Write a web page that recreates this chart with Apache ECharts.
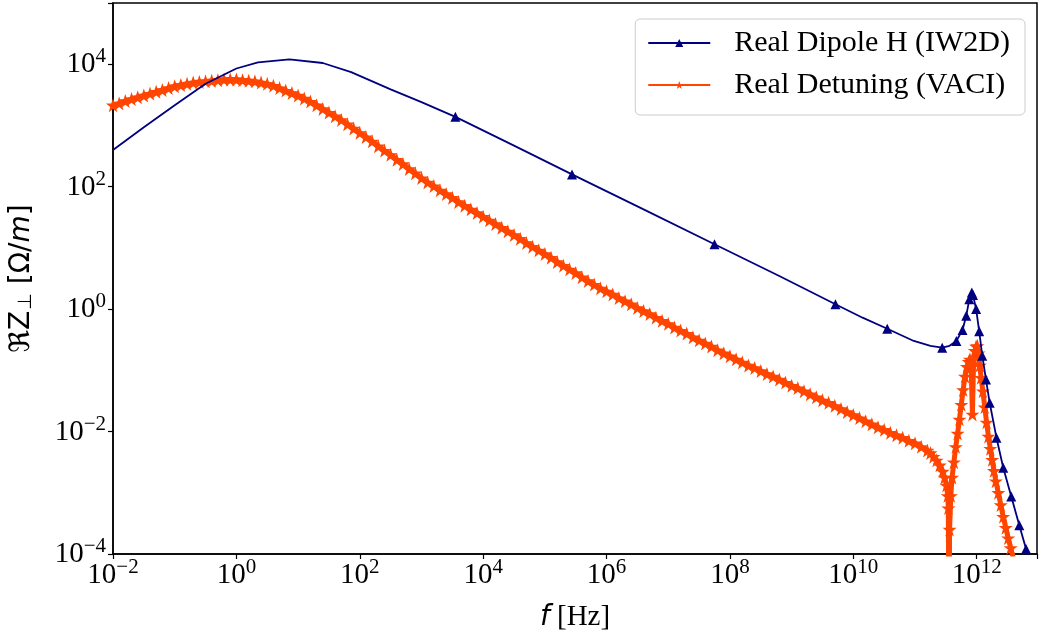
<!DOCTYPE html>
<html>
<head>
<meta charset="utf-8">
<title>Transverse impedance</title>
<script src="https://cdn.jsdelivr.net/npm/echarts@6/dist/echarts.min.js"></script>
<style>
  html, body { margin: 0; padding: 0; background: #ffffff; }
  #chart { width: 1041px; height: 637px; }
</style>
</head>
<body>
<div id="chart"></div>
<script>
// Frequencies and impedances are stored as base-10 exponents: f = 10^F [Hz], Re Z = 10^Z [Ohm/m]

// Real Dipole H (IW2D)
const dipoleExpF = [-2.0, -1.5, -1.0, -0.5, 0.0, 0.35, 0.86, 1.40, 1.86, 2.50, 3.00, 3.55, 4.50, 5.44, 6.60, 7.75,
  8.80, 9.71, 10.15, 10.55, 10.98, 11.25, 11.44, 11.56, 11.67, 11.77, 11.83, 11.88, 11.92, 11.94, 11.99, 12.04,
  12.09, 12.15, 12.21, 12.32, 12.43, 12.56, 12.69, 12.80, 12.88];
const dipoleExpZ = [2.60, 2.97, 3.33, 3.68, 3.93, 4.03, 4.08, 4.02, 3.87, 3.59, 3.38, 3.14, 2.67, 2.20, 1.63, 1.06,
  0.54, 0.08, -0.14, -0.32, -0.52, -0.60, -0.63, -0.60, -0.52, -0.34, -0.11, 0.16, 0.27, 0.23, 0.00, -0.36,
  -0.76, -1.15, -1.53, -2.10, -2.59, -3.06, -3.53, -3.92, -4.20];
// 1 where the curve carries a triangle marker
const dipoleMarked = [0, 0, 0, 0, 0, 0, 0, 0, 0, 0, 0, 1, 0, 1, 0, 1,
  0, 1, 0, 1, 0, 0, 1, 0, 1, 1, 1, 1, 1, 1, 1, 1,
  1, 1, 1, 1, 1, 1, 1, 1, 0];

// Real Detuning (VACI)
const detuningExpF = [-2.0, -1.9, -1.8, -1.7, -1.6, -1.5, -1.4, -1.3, -1.2, -1.1, -1.0, -0.9, -0.8, -0.7, -0.6, -0.5,
  -0.4, -0.3, -0.2, -0.1, 0.0, 0.1, 0.2, 0.3, 0.4, 0.5, 0.6, 0.7, 0.8, 0.9, 1.0, 1.1, 1.2, 1.3, 1.4, 1.5, 1.6, 1.7,
  1.8, 1.9, 2.0, 2.1, 2.2, 2.3, 2.4, 2.5, 2.6, 2.7, 2.8, 2.9, 3.0, 3.1, 3.2, 3.3, 3.4, 3.5, 3.6, 3.7, 3.8, 3.9,
  4.0, 4.1, 4.2, 4.3, 4.4, 4.5, 4.6, 4.7, 4.8, 4.9, 5.0, 5.1, 5.2, 5.3, 5.4, 5.5, 5.6, 5.7, 5.8, 5.9,
  6.0, 6.1, 6.2, 6.3, 6.4, 6.5, 6.6, 6.7, 6.8, 6.9, 7.0, 7.1, 7.2, 7.3, 7.4, 7.5, 7.6, 7.7, 7.8, 7.9,
  8.0, 8.1, 8.2, 8.3, 8.4, 8.5, 8.6, 8.7, 8.8, 8.9, 9.0, 9.1, 9.2, 9.3, 9.4, 9.5, 9.6, 9.7, 9.8, 9.9,
  10.0, 10.1, 10.2, 10.3, 10.4, 10.5, 10.6, 10.7, 10.8, 10.9, 11.0, 11.1, 11.2, 11.25, 11.3, 11.35, 11.4,
  11.45, 11.48, 11.51, 11.53, 11.54, 11.55, 11.56, 11.58, 11.60, 11.63, 11.66, 11.69, 11.72, 11.75, 11.78,
  11.81, 11.84, 11.87, 11.89, 11.91, 11.93, 11.95, 11.97, 11.99, 12.01, 12.03, 12.05, 12.07, 12.10, 12.13,
  12.16, 12.19, 12.22, 12.25, 12.28, 12.31, 12.35, 12.39, 12.43, 12.47, 12.51, 12.55, 12.59];
const detuningExpZ = [3.33, 3.36, 3.40, 3.43, 3.46, 3.49, 3.52, 3.55, 3.58, 3.61, 3.64, 3.66, 3.68, 3.70, 3.71, 3.72,
  3.73, 3.74, 3.75, 3.75, 3.75, 3.74, 3.73, 3.72, 3.70, 3.68, 3.65, 3.61, 3.57, 3.53, 3.49, 3.44, 3.39, 3.33, 3.27, 3.21, 3.15, 3.09,
  3.02, 2.95, 2.88, 2.81, 2.74, 2.66, 2.59, 2.52, 2.44, 2.37, 2.29, 2.22, 2.14, 2.07, 2.01, 1.94, 1.88, 1.82, 1.75, 1.69, 1.63, 1.57,
  1.51, 1.45, 1.39, 1.33, 1.27, 1.21, 1.15, 1.08, 1.02, 0.96, 0.90, 0.84, 0.77, 0.71, 0.65, 0.59, 0.52, 0.46, 0.40, 0.34,
  0.29, 0.24, 0.18, 0.13, 0.08, 0.02, -0.03, -0.08, -0.14, -0.19, -0.24, -0.30, -0.35, -0.40, -0.46, -0.51, -0.56, -0.61, -0.67, -0.72,
  -0.77, -0.82, -0.87, -0.92, -0.96, -1.01, -1.06, -1.10, -1.15, -1.20, -1.25, -1.29, -1.34, -1.39, -1.44, -1.49, -1.53, -1.58, -1.63, -1.68,
  -1.73, -1.78, -1.83, -1.88, -1.93, -1.97, -2.02, -2.06, -2.10, -2.15, -2.19, -2.25, -2.31, -2.35, -2.41, -2.47, -2.55,
  -2.65, -2.75, -2.88, -3.05, -3.25, -6.00, -3.60, -3.05, -2.75, -2.50, -2.25, -2.03, -1.80, -1.56, -1.32,
  -1.10, -0.94, -0.86, -0.82, -0.95, -1.72, -0.82, -0.68, -0.61, -0.60, -0.72, -0.92, -1.12, -1.34, -1.60,
  -1.85, -2.08, -2.28, -2.46, -2.64, -2.81, -3.00, -3.20, -3.39, -3.57, -3.74, -3.90, -4.05];

const SERIES_NAMES = ['Real Dipole H (IW2D)', 'Real Detuning (VACI)'];
const NAVY = '#000080';
const ORANGE_RED = '#ff4500';
const STAR = 'path://M50,0 L61.8,34.5 L97.6,34.5 L68.6,55.9 L79.4,90.5 L50,69.1 L20.6,90.5 L31.4,55.9 L2.4,34.5 L38.2,34.5 Z';

const dipoleData = dipoleExpF.map((e, i) => ({
  value: [Math.pow(10, e), Math.pow(10, dipoleExpZ[i])],
  symbol: dipoleMarked[i] ? 'triangle' : 'none'
}));
const detuningData = detuningExpF.map((e, i) => [Math.pow(10, e), Math.pow(10, detuningExpZ[i])]);

// Labels only at every second decade, written as 10 with a raised exponent
function powerLabel(v) {
  const e = Math.log10(v);
  const r = Math.round(e);
  if (Math.abs(e - r) > 1e-6 || r % 2 !== 0) return '';
  return '{b|10}{s|' + String(r).replace('-', '\u2212') + '}';
}
const tickRich = {
  b: { fontFamily: 'Liberation Serif', fontSize: 29, color: '#000', verticalAlign: 'bottom', lineHeight: 30 },
  s: { fontFamily: 'Liberation Serif', fontSize: 21, color: '#000', verticalAlign: 'bottom', lineHeight: 21, padding: [0, 0, 12, 0] }
};

const axisCommon = {
  type: 'log',
  logBase: 10,
  interval: 2,
  axisLine: { show: true, lineStyle: { color: '#000', width: 1.5 } },
  axisTick: { show: true, inside: false, length: 5, lineStyle: { color: '#000', width: 1.2 } },
  minorTick: { show: false },
  splitLine: { show: false },
  minorSplitLine: { show: false },
  axisLabel: { formatter: powerLabel, rich: tickRich }
};

const chart = echarts.init(document.getElementById('chart'), null, { renderer: 'canvas' });
chart.setOption({
  animation: false,
  backgroundColor: '#ffffff',
  grid: {
    left: 109, right: 4, top: 3, bottom: 79,
    show: true, borderColor: '#000', borderWidth: 1.5, backgroundColor: 'transparent'
  },
  legend: {
    data: SERIES_NAMES,
    orient: 'vertical',
    right: 16,
    top: 19,
    padding: [8, 15, 14, 12],
    itemWidth: 62,
    itemHeight: 10,
    itemGap: 10,
    lineStyle: { width: 2 },
    backgroundColor: 'rgba(255,255,255,0.8)',
    borderColor: '#cccccc',
    borderWidth: 1,
    borderRadius: 5,
    textStyle: { fontFamily: 'Liberation Serif', fontSize: 30, color: '#000', lineHeight: 32, padding: [0, 0, 0, 19] }
  },
  xAxis: Object.assign({}, axisCommon, {
    min: 0.01,
    max: Math.pow(10, 12.977),
    axisLabel: Object.assign({}, axisCommon.axisLabel, { margin: 6 }),
    name: '{f|f}{h| [Hz]}',
    nameLocation: 'middle',
    nameGap: 49,
    nameTextStyle: {
      rich: {
        f: { fontFamily: 'DejaVu Sans', fontStyle: 'italic', fontSize: 28, color: '#000' },
        h: { fontFamily: 'Liberation Serif', fontSize: 29, color: '#000' }
      }
    }
  }),
  yAxis: Object.assign({}, axisCommon, {
    min: 1e-4,
    max: 1e5,
    axisLabel: Object.assign({}, axisCommon.axisLabel, { margin: 7 }),
    name: '{r|\u211cZ}{p|\u22a5}{t| [\u03a9/}{m|m}{t|]}',
    nameLocation: 'middle',
    nameRotate: 90,
    nameGap: 77,
    nameTextStyle: {
      rich: {
        r: { fontFamily: 'DejaVu Sans', fontSize: 28, color: '#000', verticalAlign: 'bottom', lineHeight: 32 },
        p: { fontFamily: 'DejaVu Sans', fontSize: 19, color: '#000', verticalAlign: 'bottom', lineHeight: 22, padding: [0, 0, 0, 1] },
        t: { fontFamily: 'DejaVu Sans', fontSize: 28, color: '#000', verticalAlign: 'bottom', lineHeight: 32 },
        m: { fontFamily: 'DejaVu Sans', fontStyle: 'italic', fontSize: 28, color: '#000', verticalAlign: 'bottom', lineHeight: 32 }
      }
    }
  }),
  series: [
    {
      name: SERIES_NAMES[1],
      type: 'line',
      data: detuningData,
      symbol: STAR,
      symbolSize: 14,
      showSymbol: true,
      showAllSymbol: true,
      clip: true,
      lineStyle: { color: ORANGE_RED, width: 5 },
      itemStyle: { color: ORANGE_RED, borderWidth: 0 },
      emphasis: { disabled: true },
      z: 2
    },
    {
      name: SERIES_NAMES[0],
      type: 'line',
      data: dipoleData,
      symbol: 'triangle',
      symbolSize: 10,
      showSymbol: true,
      showAllSymbol: true,
      clip: true,
      lineStyle: { color: NAVY, width: 1.8 },
      itemStyle: { color: NAVY, borderWidth: 0 },
      emphasis: { disabled: true },
      z: 3
    }
  ]
});
</script>
</body>
</html>
